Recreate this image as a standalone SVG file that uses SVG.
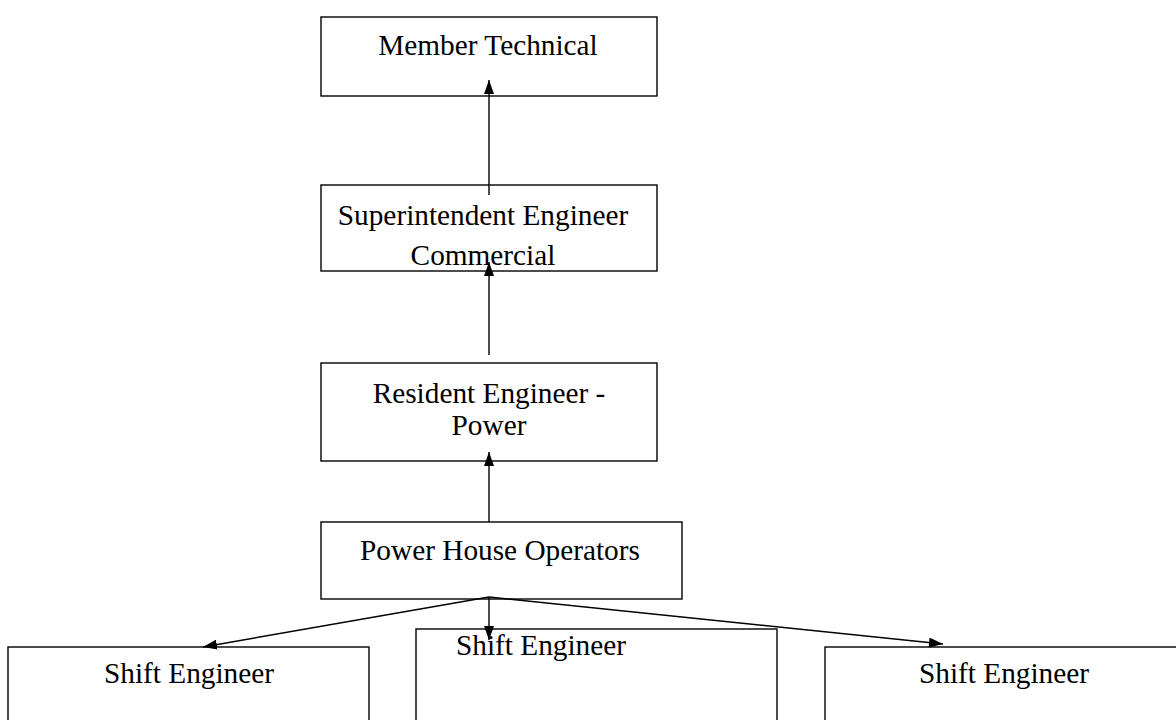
<svg xmlns="http://www.w3.org/2000/svg" width="1176" height="720" viewBox="0 0 1176 720">
<style>
.box{fill:#fff;stroke:#000;stroke-width:1.4}
.t{font-family:"Liberation Serif","Times New Roman",serif;font-size:29.3px;fill:#000;text-anchor:middle}
.c{stroke:#000;stroke-width:1.4;fill:none;marker-end:url(#ah)}
</style>
<defs>
<marker id="ah" viewBox="0 0 14 10" refX="14" refY="5" markerWidth="14" markerHeight="10" markerUnits="userSpaceOnUse" orient="auto">
<path d="M0,0 L14,5 L0,10 Z" fill="#000"/>
</marker>
</defs>
<rect width="1176" height="720" fill="#fff"/>
<g id="member-technical">
<rect class="box" x="321" y="17" width="336" height="79"/>
<text class="t" x="488" y="55">Member Technical</text>
</g>
<g id="superintendent-engineer">
<rect class="box" x="321" y="185" width="336" height="86"/>
<text class="t" x="483" y="225">Superintendent Engineer</text>
<text class="t" x="483" y="265">Commercial</text>
</g>
<g id="resident-engineer">
<rect class="box" x="321" y="363" width="336" height="98"/>
<text class="t" x="489" y="403">Resident Engineer -</text>
<text class="t" x="489" y="435">Power</text>
</g>
<g id="power-house-operators">
<rect class="box" x="321" y="522" width="361" height="77"/>
<text class="t" x="500" y="560">Power House Operators</text>
</g>
<g id="shift-engineer-1">
<rect class="box" x="8" y="647" width="361" height="82"/>
<text class="t" x="189" y="683">Shift Engineer</text>
</g>
<g id="shift-engineer-2">
<rect class="box" x="416" y="629" width="361" height="100"/>
<text class="t" x="541" y="655">Shift Engineer</text>
</g>
<g id="shift-engineer-3">
<rect class="box" x="825" y="647" width="361" height="82"/>
<text class="t" x="1004" y="683">Shift Engineer</text>
</g>
<g id="connectors">
<line class="c" x1="489" y1="195" x2="489" y2="80"/>
<line class="c" x1="489" y1="355" x2="489" y2="262"/>
<line class="c" x1="489" y1="522" x2="489" y2="452"/>
<line class="c" x1="489" y1="597" x2="203" y2="647"/>
<line class="c" x1="489" y1="597" x2="489" y2="640"/>
<line class="c" x1="489" y1="597" x2="943" y2="644"/>
</g>
</svg>
